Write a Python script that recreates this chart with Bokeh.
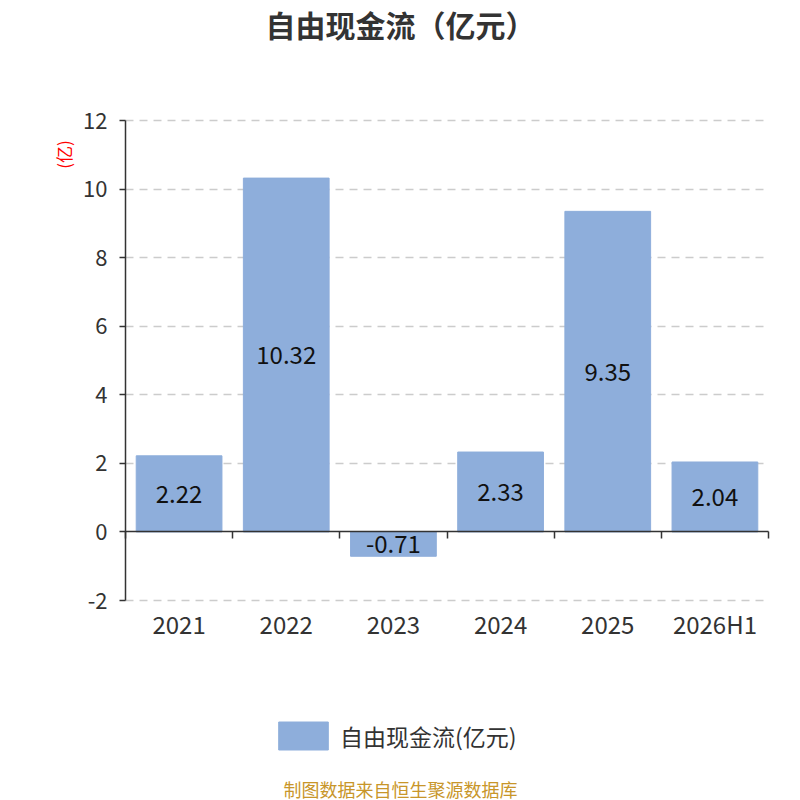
from bokeh.plotting import figure
from bokeh.models import (ColumnDataSource, Range1d, FixedTicker, LinearAxis, Label,
                          Legend, LegendItem, LabelSet)
from bokeh.core.properties import value
from bokeh.embed import file_html
from bokeh.resources import INLINE
from math import pi

categories = ["2021", "2022", "2023", "2024", "2025", "2026H1"]
values = [2.22, 10.32, -0.71, 2.33, 9.35, 2.04]
y_ticks = [-2, 0, 2, 4, 6, 8, 10, 12]

FONT = "Noto Sans CJK SC"
BAR = "#8eaedb"
W, H = 784, 800
# plot area in canvas pixels
L, R, T, B = 125, 768, 120, 600
n = len(categories)
ymin, ymax = y_ticks[0], y_ticks[-1]
ux = n / (R - L)
uy = (ymax - ymin) / (B - T)

xs = [i + 0.5 for i in range(n)]
src = ColumnDataSource(dict(x=xs, top=values, mid=[v / 2 for v in values],
                            lab=[f"{v:.2f}" for v in values]))

p = figure(width=W, height=H, output_backend="svg", toolbar_location=None,
           x_range=Range1d(-L * ux, n + (W - R) * ux),
           y_range=Range1d(ymin - (H - B) * uy, ymax + T * uy),
           min_border=0, x_axis_location=None, y_axis_location=None)
p.outline_line_color = None
p.background_fill_color = "white"
p.border_fill_color = "white"
p.title.visible = False

# y axis
yax = LinearAxis(ticker=FixedTicker(ticks=y_ticks), fixed_location=0, bounds=(ymin, ymax),
                 major_label_overrides={t: str(t) for t in y_ticks})
yax.axis_line_color = "#333333"
yax.axis_line_width = 1.5
yax.major_tick_line_color = "#333333"
yax.major_tick_line_width = 1.5
yax.major_tick_out = 6
yax.major_tick_in = 0
yax.minor_tick_line_color = None
yax.major_label_text_font = FONT
yax.major_label_text_font_size = "22px"
yax.major_label_text_color = "#333333"
yax.major_label_standoff = 12
p.add_layout(yax, "left")

# x axis labels (under the plot area)
xax = LinearAxis(ticker=FixedTicker(ticks=xs), fixed_location=ymin, bounds=(0, n),
                 major_label_overrides={x: c for x, c in zip(xs, categories)})
xax.axis_line_color = None
xax.major_tick_line_color = None
xax.major_tick_out = 0
xax.minor_tick_line_color = None
xax.major_label_text_font = FONT
xax.major_label_text_font_size = "24px"
xax.major_label_text_color = "#333333"
xax.major_label_standoff = 5
p.add_layout(xax, "below")

# zero axis line with category boundary ticks
zax = LinearAxis(ticker=FixedTicker(ticks=[], minor_ticks=list(range(n + 1))),
                 fixed_location=0, bounds=(0, n))
zax.axis_line_color = "#333333"
zax.axis_line_width = 1.5
zax.major_tick_line_color = None
zax.minor_tick_line_color = "#333333"
zax.minor_tick_line_width = 1.5
zax.minor_tick_out = 7
zax.minor_tick_in = 0
p.add_layout(zax, "below")

p.xgrid.visible = False
grid_ticks = [t for t in y_ticks if t != 0]
if "cross_bounds" in p.ygrid.properties():
    p.ygrid.ticker = FixedTicker(ticks=grid_ticks)
    p.ygrid.cross_bounds = (0, n)
    p.ygrid.grid_line_color = "#cccccc"
    p.ygrid.grid_line_dash = "8 6"
    p.ygrid.grid_line_width = 1.5
else:
    p.ygrid.visible = False
    p.segment(x0=[0] * len(grid_ticks), x1=[n] * len(grid_ticks), y0=grid_ticks,
              y1=grid_ticks, line_color="#cccccc", line_dash="8 6", line_width=1.5,
              level="underlay")

r = p.vbar(x="x", top="top", bottom=0, width=0.8, source=src,
           fill_color=BAR, line_color=BAR)

p.add_layout(LabelSet(x="x", y="mid", text="lab", source=src, text_align="center",
                      text_baseline="middle", text_font=value(FONT), text_font_size="24px",
                      text_color="#111111"))

# title
p.add_layout(Label(x=400, y=H - 23, x_units="screen", y_units="screen",
                   text="自由现金流（亿元）", text_font=FONT, text_font_size="30px",
                   text_font_style="bold", text_color="#333333",
                   text_align="center", text_baseline="middle"))
# y unit label
p.add_layout(Label(x=63, y=H - 154, x_units="screen", y_units="screen",
                   text="(亿)", text_font=FONT, text_font_size="17px",
                   text_color="red", angle=pi / 2,
                   text_align="center", text_baseline="middle"))
# footer
p.add_layout(Label(x=400, y=H - 788, x_units="screen", y_units="screen",
                   text="制图数据来自恒生聚源数据库", text_font=FONT, text_font_size="18px",
                   text_color="#c8962a", text_align="center", text_baseline="middle"))

legend = Legend(items=[LegendItem(label="自由现金流(亿元)", renderers=[r])],
                location=(272, H - 753), orientation="horizontal")
legend.glyph_width = 62
legend.glyph_height = 35
legend.label_standoff = 6
legend.padding = 0
legend.margin = 0
legend.border_line_color = None
legend.background_fill_alpha = 0
legend.label_text_font = FONT
legend.label_text_font_size = "23px"
legend.label_text_color = "#333333"
p.add_layout(legend, "center")

open("out.html", "w").write(file_html(p, INLINE))
